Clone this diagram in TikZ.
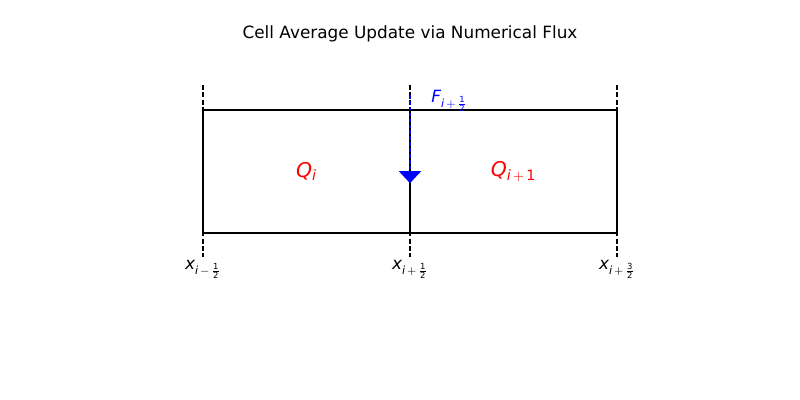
\documentclass[tikz,border=0pt]{standalone}
\usepackage{amsmath}
\usepackage{fontspec}
\setmainfont{DejaVu Sans}
\usetikzlibrary{arrows.meta}
\newcommand{\vi}[1]{\text{\itshape #1}}
\newcommand{\sop}[1]{\mkern3mu#1\mkern3mu}

\begin{document}
\begin{tikzpicture}[>=stealth, scale=1.0,
    cell/.style={draw=black, line width=1.6pt, text=red, minimum width=5.175cm,
      minimum height=3.075cm, inner sep=0pt, font=\fontsize{14.5}{17}\selectfont},
    gridline/.style={black, line width=1.1pt, dash pattern=on 3.6pt off 1.6pt},
    flux/.style={blue, line width=1.3pt, dash pattern=on 2.6pt off 1.6pt},
    xlab/.style={below, inner sep=2pt, font=\fontsize{12}{14}\selectfont}]
  \useasboundingbox (0,0) rectangle (20,10);
  \node[font=\fontsize{12}{14}\selectfont] (title) at (10.25,9.15) {Cell Average Update via Numerical Flux};

  % the two cells
  \node[cell] (cell1) at (7.6625,5.7125) {$\vi{Q}_{\vi{i}}$};
  \node[cell] (cell2) at (12.8375,5.7125) {$\vi{Q}_{\vi{i}\sop{+}\text{1}}$};

  % cell interfaces
  \coordinate (t0) at (5.075,7.875);  \coordinate (b0) at (5.075,3.575);
  \coordinate (t1) at (10.25,7.875);  \coordinate (b1) at (10.25,3.575);
  \coordinate (t2) at (15.425,7.875); \coordinate (b2) at (15.425,3.575);
  \foreach \k in {0,1,2}
    \draw[gridline] (t\k) -- (b\k);
  \node[xlab] (x0) at (b0) {$\vi{x}_{\vi{i}\sop{-}\frac{\text{1}}{\text{2}}}$};
  \node[xlab] (x1) at (b1) {$\vi{x}_{\vi{i}\sop{+}\frac{\text{1}}{\text{2}}}$};
  \node[xlab] (x2) at (b2) {$\vi{x}_{\vi{i}\sop{+}\frac{\text{3}}{\text{2}}}$};

  % numerical flux
  \coordinate (ftop) at (10.25,7.625);
  \coordinate (ftip) at (10.25,5.42);
  \draw[flux, -{Triangle[width=0.55cm, length=0.3cm]}] (ftop) -- (ftip);
  \node[blue, anchor=west, inner sep=0pt, font=\fontsize{12}{14}\selectfont] (flab) at (10.78,7.48)
    {$\vi{F}_{\vi{i}\sop{+}\frac{\text{1}}{\text{2}}}$};
\end{tikzpicture}
\end{document}
